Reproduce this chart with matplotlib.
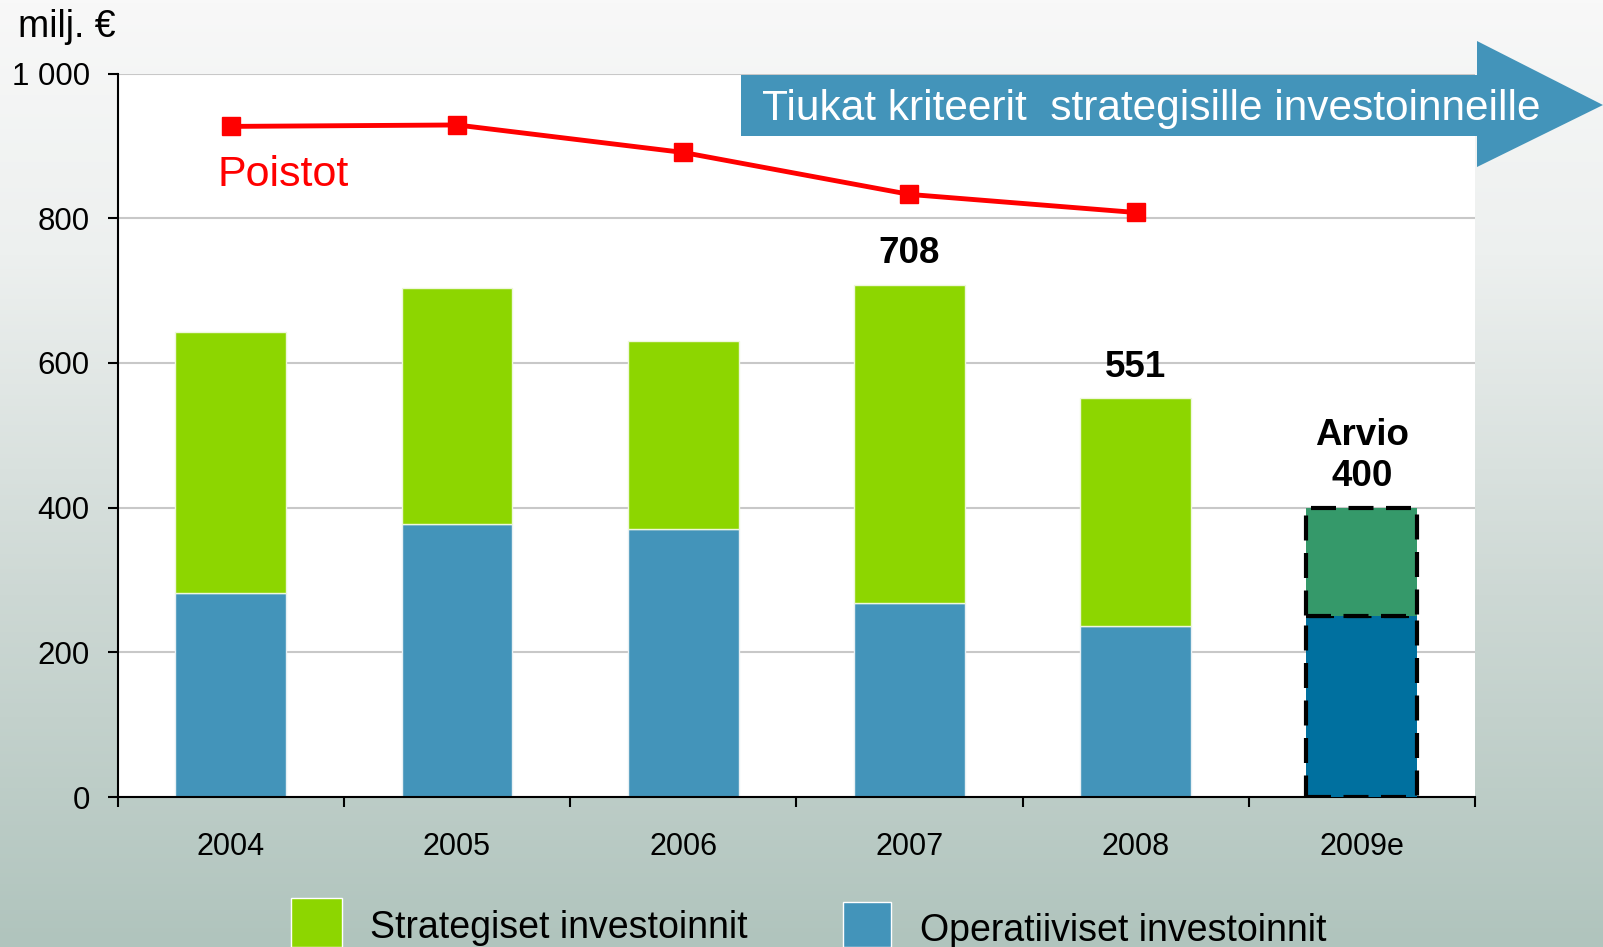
import numpy as np
import matplotlib
matplotlib.use('Agg')
import matplotlib.pyplot as plt
from matplotlib.patches import Polygon, Rectangle
from matplotlib.colors import LinearSegmentedColormap
from matplotlib import font_manager

# data
years = ['2004', '2005', '2006', '2007', '2008', '2009e']
operatiiviset = [282, 378, 370, 268, 236, 250]
strategiset = [361, 325, 260, 440, 315, 150]
poistot = [927, 929, 891, 833, 808]
bar_labels = ['', '', '', '708', '551', 'Arvio\n400']
y_ticks = [0, 200, 400, 600, 800, 1000]

W, H = 1603, 947

def has_font(name):
    try:
        font_manager.findfont(name, fallback_to_default=False)
        return True
    except Exception:
        return False

base = 'Liberation Sans' if has_font('Liberation Sans') else 'DejaVu Sans'
narrow = 'Liberation Sans Narrow' if has_font('Liberation Sans Narrow') else base
plt.rcParams['font.family'] = [base, 'DejaVu Sans']

fig = plt.figure(figsize=(W / 100, H / 100), dpi=100)

# background gradient
bg = fig.add_axes([0, 0, 1, 1], zorder=-10)
cmap = LinearSegmentedColormap.from_list(
    'bg', [(0.0, '#f8f8f8'), (0.27, '#edf0ef'), (0.63, '#cdd8d4'), (1.0, '#b0c4bd')])
grad = np.linspace(0, 1, 256).reshape(-1, 1)
bg.imshow(grad, aspect='auto', cmap=cmap, extent=[0, 1, 0, 1], origin='upper')
bg.axis('off')

ax = fig.add_axes([117.6 / W, 1 - 797 / H, (1475 - 117.6) / W, (797 - 73.6) / H])
ax.set_facecolor('white')

x = np.arange(len(years))
n_hist = len(years) - 1
w = 0.49

ax.bar(x[:n_hist], operatiiviset[:n_hist], w, color='#4394ba', edgecolor='#e8f0f4', linewidth=1, zorder=2)
ax.bar(x[:n_hist], strategiset[:n_hist], w, bottom=operatiiviset[:n_hist], color='#8dd600',
       edgecolor='#eef7dc', linewidth=1, zorder=2)

# estimate bar with dashed outline
ax.bar(x[-1], operatiiviset[-1], w, color='#00709f', edgecolor='black', linewidth=3,
       linestyle=(0, (6, 3)), zorder=3)
ax.bar(x[-1], strategiset[-1], w, bottom=operatiiviset[-1], color='#35996a', edgecolor='black',
       linewidth=3, linestyle=(0, (6, 3)), zorder=3)

# Poistot line
ax.plot(x[:len(poistot)], poistot, color='#ff0000', linewidth=3.5, marker='s', markersize=13, zorder=4,
        clip_on=False)
ax.text(-0.06, 860, 'Poistot', color='#ff0000', fontsize=31, va='center', ha='left')

totals = [o + s for o, s in zip(operatiiviset, strategiset)]
for xi, t, lab in zip(x, totals, bar_labels):
    if lab:
        ax.annotate(lab, (xi, t), xytext=(0, 10), textcoords='offset points', ha='center', va='bottom',
                    fontsize=26.5, fontweight='bold', linespacing=1.2)

ax.set_xlim(-0.5, len(years) - 0.5)
ax.set_ylim(0, 1000)
ax.set_yticks(y_ticks)
ax.set_yticklabels([f'{v:,}'.replace(',', ' ') for v in y_ticks])
ax.yaxis.grid(True, color='#c8c8c8', linewidth=1.5, zorder=0)
ax.set_axisbelow(True)

ax.set_xticks(np.arange(-0.5, len(years), 1.0))
ax.set_xticklabels([])
ax.set_xticks(x, minor=True)
ax.set_xticklabels(years, minor=True)
ax.tick_params(axis='x', which='major', direction='out', length=7, width=1.5, color='black')
ax.tick_params(axis='x', which='minor', length=0, pad=25, labelsize=22)
ax.tick_params(axis='y', direction='out', length=7, width=1.5, pad=13, labelsize=22.5)

for side in ['top', 'right']:
    ax.spines[side].set_visible(False)
for side in ['left', 'bottom']:
    ax.spines[side].set_linewidth(1.5)
    ax.spines[side].set_color('black')

fig.text(18 / W, 1 - 27 / H, 'milj. €', fontsize=27, va='center', ha='left')

# arrow banner
px = [(741, 75), (1477, 75), (1477, 41), (1603, 105), (1477, 167), (1477, 136), (741, 136)]
arrow = Polygon([(a / W, 1 - b / H) for a, b in px], closed=True, transform=fig.transFigure,
                facecolor='#4394ba', edgecolor='none', zorder=5)
fig.add_artist(arrow)
fig.text(762 / W, 1 - 109 / H, 'Tiukat kriteerit  strategisille investoinneille', color='white',
         fontsize=30.5, family=[narrow, base], va='center', ha='left', zorder=6)

# legend
for (x0, y0, x1), col, label, tx, ty in [((291, 898, 342), '#8dd600', 'Strategiset investoinnit', 370, 928),
                                         ((843, 902, 891), '#4394ba', 'Operatiiviset investoinnit', 920, 931)]:
    rect = Rectangle((x0 / W, 0), (x1 - x0) / W, 1 - y0 / H, transform=fig.transFigure,
                     facecolor=col, edgecolor='white', linewidth=1, zorder=5)
    fig.add_artist(rect)
    fig.text(tx / W, 1 - ty / H, label, fontsize=27, family=[narrow, base], va='center', ha='left', zorder=6)

fig.savefig('out.png', dpi=100)
